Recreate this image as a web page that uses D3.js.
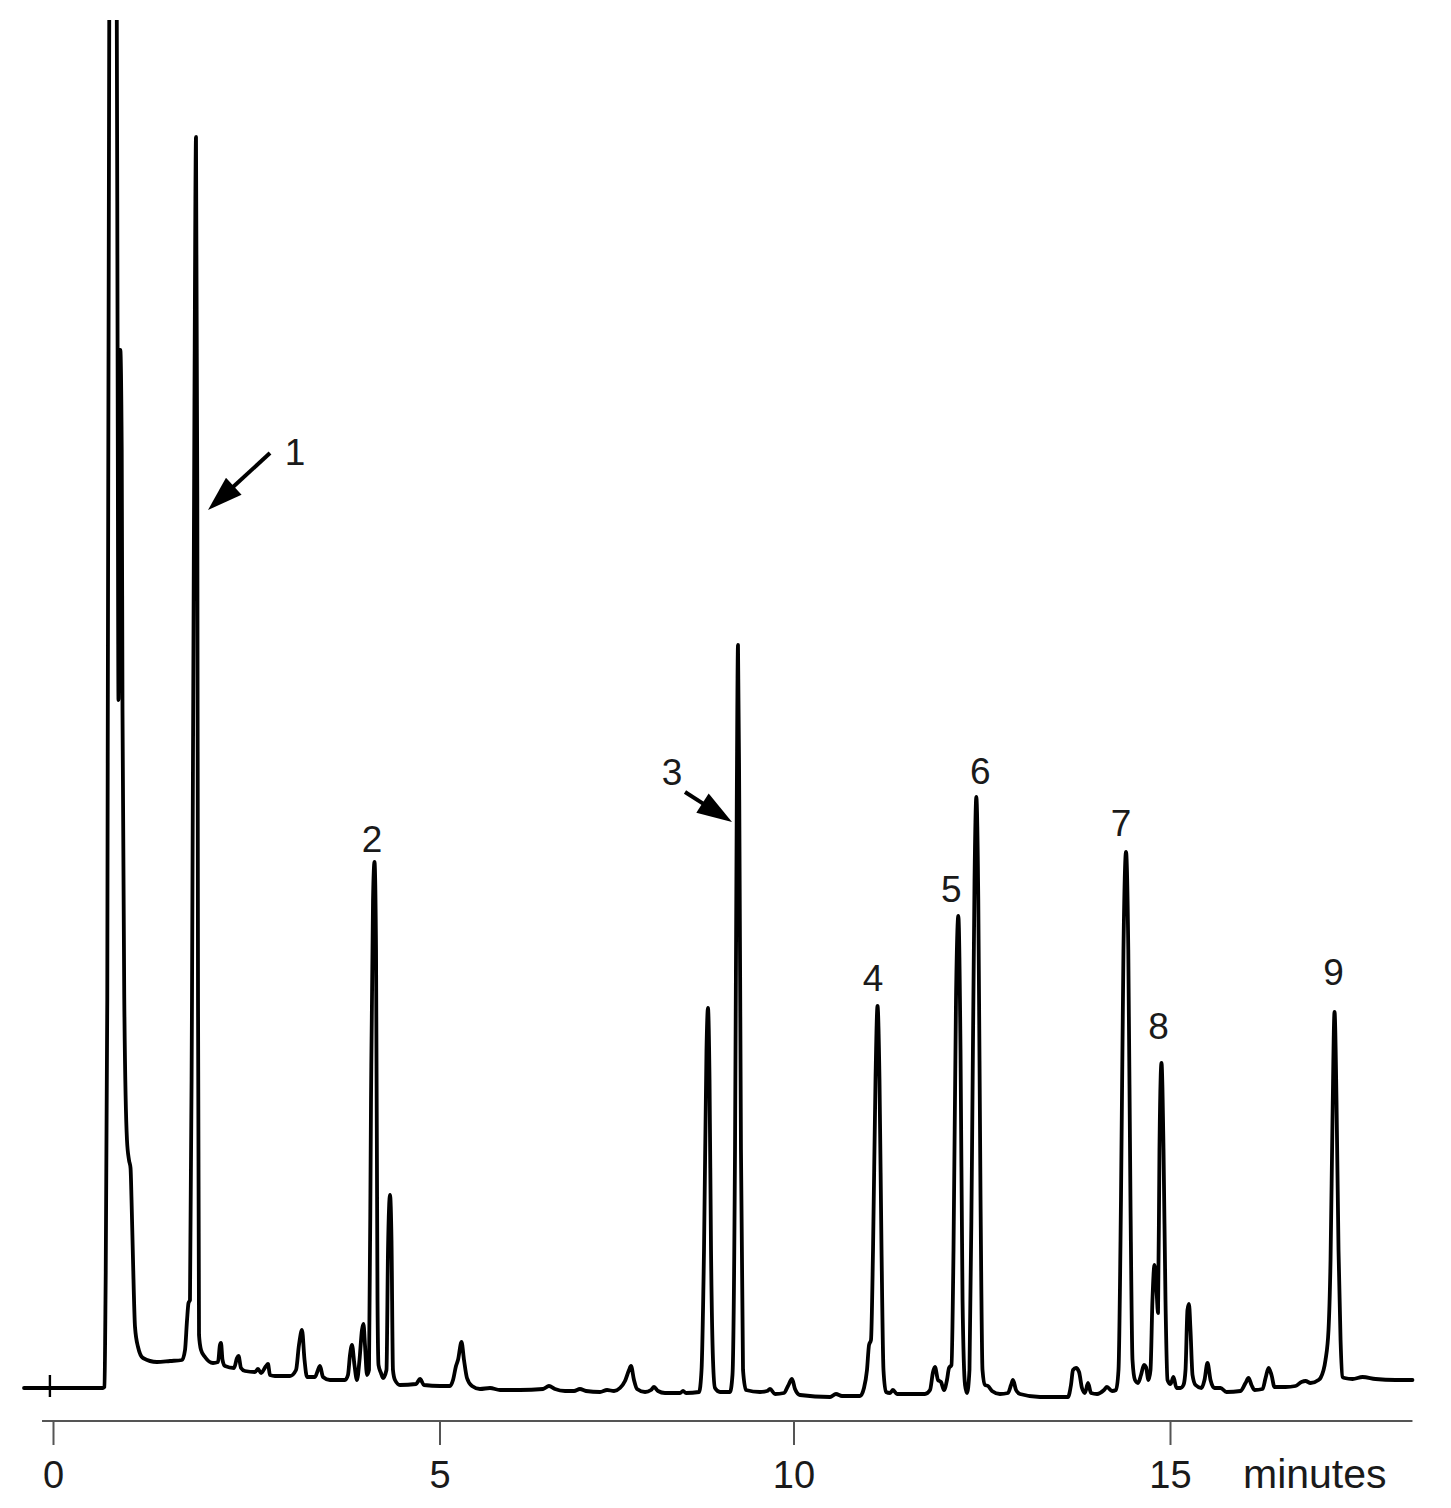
<!DOCTYPE html>
<html>
<head>
<meta charset="utf-8">
<script src="https://cdn.jsdelivr.net/npm/d3@7"></script>
<style>
  html, body { margin: 0; padding: 0; background: #fff; }
  svg { display: block; }
  text { font-family: "Liberation Sans", Arial, Helvetica, sans-serif; fill: #1a1a1a; }
</style>
</head>
<body>
<svg id="chart" width="1451" height="1508"></svg>
<script>
// ---------- DATA ----------
// retention time in minutes
const retentionTime = [
  -0.375, 0.647, 0.666, 0.679, 0.702, 0.731, 0.776, 0.821, 0.837, 0.847, 0.871, 0.889, 0.899, 0.922, 0.957,
  0.983, 1.003, 1.016, 1.035, 1.061, 1.100, 1.164, 1.345, 1.514, 1.669, 1.708, 1.734, 1.753, 1.772, 1.798,
  1.830, 1.850, 1.867, 1.876, 1.889, 1.915, 1.966, 2.070, 2.135, 2.160, 2.173, 2.193, 2.225, 2.342, 2.380,
  2.400, 2.432, 2.484, 2.613, 2.652, 2.691, 2.756, 2.781, 2.807, 2.872, 3.066, 3.144, 3.182, 3.221, 3.254,
  3.286, 3.389, 3.428, 3.454, 3.493, 3.583, 3.777, 3.816, 3.842, 3.868, 3.900, 3.932, 3.965, 3.997, 4.016,
  4.036, 4.062, 4.088, 4.114, 4.140, 4.159, 4.179, 4.198, 4.211, 4.243, 4.269, 4.314, 4.334, 4.360, 4.379,
  4.398, 4.424, 4.489, 4.696, 4.748, 4.799, 5.007, 5.148, 5.191, 5.233, 5.261, 5.311, 5.346, 5.388, 5.459,
  5.572, 5.713, 5.855, 6.137, 6.462, 6.546, 6.631, 6.773, 6.900, 6.984, 7.069, 7.267, 7.366, 7.465, 7.549,
  7.620, 7.677, 7.705, 7.747, 7.790, 7.903, 7.987, 8.030, 8.086, 8.185, 8.397, 8.440, 8.482, 8.666, 8.701,
  8.736, 8.771, 8.792, 8.814, 8.835, 8.863, 8.891, 8.962, 9.103, 9.138, 9.174, 9.199, 9.216, 9.234, 9.258,
  9.287, 9.329, 9.527, 9.626, 9.668, 9.739, 9.866, 9.922, 9.979, 10.020, 10.086, 10.485, 10.564, 10.644, 10.883,
  10.936, 10.976, 11.003, 11.029, 11.056, 11.089, 11.116, 11.142, 11.169, 11.195, 11.228, 11.282, 11.321, 11.374, 11.746,
  11.813, 11.853, 11.879, 11.919, 11.959, 11.999, 12.038, 12.065, 12.098, 12.125, 12.158, 12.189, 12.218, 12.245, 12.278,
  12.304, 12.337, 12.371, 12.404, 12.428, 12.454, 12.484, 12.510, 12.543, 12.583, 12.636, 12.742, 12.849, 12.889, 12.915,
  12.955, 13.008, 13.274, 13.645, 13.685, 13.712, 13.752, 13.792, 13.831, 13.871, 13.911, 13.951, 14.031, 14.124, 14.163,
  14.230, 14.283, 14.316, 14.349, 14.382, 14.416, 14.446, 14.475, 14.502, 14.535, 14.575, 14.615, 14.655, 14.681, 14.714,
  14.741, 14.767, 14.794, 14.821, 14.841, 14.860, 14.887, 14.914, 14.940, 14.967, 15.007, 15.046, 15.086, 15.139, 15.179,
  15.206, 15.232, 15.252, 15.272, 15.299, 15.339, 15.418, 15.458, 15.498, 15.538, 15.591, 15.671, 15.750, 15.936, 16.003,
  16.043, 16.082, 16.122, 16.229, 16.269, 16.309, 16.348, 16.388, 16.534, 16.667, 16.746, 16.800, 16.866, 16.972, 16.999,
  17.065, 17.105, 17.132, 17.158, 17.185, 17.211, 17.238, 17.265, 17.291, 17.318, 17.425, 17.557, 17.730, 17.995, 18.220
];
// detector signal (arbitrary units)
const signal = [
  1.2, 1.2, 1.3, 10, 40, 150, 170, 150, 100, 70, 105, 95, 69, 40, 26,
  24, 23.2, 20, 14, 7.3, 5.3, 4.2, 3.8, 3.9, 4.0, 5.0, 8, 9.7, 10, 40,
  100, 126.3, 90, 40, 6.5, 5, 4.3, 3.7, 3.8, 5.5, 5.7, 4, 3.4, 3.2, 4.2,
  4.4, 3.2, 2.9, 2.8, 3.1, 2.7, 3.4, 3.6, 2.5, 2.4, 2.4, 3.0, 5.5, 7.0, 4,
  2.3, 2.3, 3.0, 3.4, 2.3, 2.0, 2.0, 2.5, 4.5, 5.5, 3.5, 2.0, 4, 7, 7.6,
  5.5, 2.5, 3.0, 30, 50, 53.8, 45, 10, 3.5, 2.7, 2.2, 3.0, 15, 20.5, 16,
  3, 2.0, 1.5, 1.6, 2.1, 1.5, 1.4, 1.4, 2.0, 3.4, 4.0, 5.8, 4.0, 2.2, 1.4,
  1.1, 1.2, 1.0, 1.0, 1.1, 1.4, 1.1, 0.9, 0.9, 1.1, 0.9, 0.8, 1.0, 0.9, 1.2,
  1.9, 3.0, 3.4, 2.0, 1.1, 0.8, 1.0, 1.3, 0.9, 0.7, 0.7, 0.9, 0.7, 0.8, 3.0,
  15, 35, 39.2, 32, 15, 4, 1.2, 0.8, 0.8, 2.5, 25, 60, 75.5, 60, 25,
  3, 1.0, 0.8, 0.9, 1.1, 0.6, 0.7, 1.4, 2.1, 1.1, 0.5, 0.3, 0.6, 0.4, 0.4,
  1.2, 3.0, 5.5, 6.0, 15, 32, 39.4, 32, 15, 3, 0.8, 0.7, 1.0, 0.6, 0.6,
  1.0, 2.8, 3.3, 2.0, 1.8, 1.0, 2.0, 3.2, 3.5, 15, 40, 48.4, 35, 10, 1.5,
  0.7, 3.0, 25, 52, 60.3, 50, 20, 3, 1.5, 1.4, 0.9, 0.6, 0.7, 1.5, 2.0,
  1.0, 0.6, 0.3, 0.3, 1.5, 3.0, 3.2, 2.8, 1.2, 0.7, 1.7, 0.7, 0.6, 1.0, 1.3,
  0.9, 1.0, 3, 20, 45, 54.8, 45, 20, 4, 2.0, 1.7, 2.5, 3.5, 3.3, 2.0,
  3.0, 10, 13.5, 11, 8.7, 25, 33.7, 25, 10, 2.0, 1.6, 2.3, 1.2, 1.2, 1.5,
  3.0, 9.0, 9.6, 7.0, 2.5, 1.5, 1.2, 2.0, 3.7, 2.0, 1.2, 1.2, 0.8, 0.9, 1.7,
  2.2, 1.5, 1.0, 1.1, 2.2, 3.2, 2.5, 1.3, 1.3, 1.4, 1.8, 1.9, 1.7, 2.0, 2.2,
  4.0, 7.0, 14, 28, 38.8, 30, 15, 6, 2.3, 2.2, 2.1, 2.3, 2.1, 2.0, 2.0
];
// identified peaks
const peakLabels = ["1", "2", "3", "4", "5", "6", "7", "8", "9"];
const peakTimes  = [1.850, 4.159, 9.216, 11.116, 12.189, 12.428, 14.416, 14.887, 17.185];
// axis
const tickValues = [0, 5, 10, 15];
const tickLabels = ["0", "5", "10", "15"];
const axisTitle = "minutes";
const injectionTime = -0.04;

// ---------- LAYOUT ----------
const svg = d3.select("#chart");
const W = 1451, H = 1508;
svg.append("rect").attr("width", W).attr("height", H).attr("fill", "#fff");

// the scanned time axis is slightly uneven, so use a piecewise-linear scale through the ticks
const x = d3.scaleLinear().domain([0, 5, 10, 15]).range([53, 439.5, 793.5, 1170]);
const y = d3.scaleLinear().domain([0, 138]).range([1400, 20]);

const axisY = 1421;
const domainStart = -0.142, domainEnd = 18.22;

svg.append("defs").append("clipPath").attr("id", "plotclip")
  .append("rect").attr("x", 0).attr("y", y(138)).attr("width", W).attr("height", H);

const pts = retentionTime.map((t, i) => [t, signal[i]]);
const line = d3.line().x(d => x(d[0])).y(d => y(d[1])).curve(d3.curveMonotoneX);

svg.append("path")
  .attr("d", line(pts))
  .attr("clip-path", "url(#plotclip)")
  .attr("fill", "none")
  .attr("stroke", "#000")
  .attr("stroke-width", 3.8)
  .attr("stroke-linejoin", "round")
  .attr("stroke-linecap", "round");

// injection mark
svg.append("line")
  .attr("x1", x(injectionTime)).attr("x2", x(injectionTime))
  .attr("y1", y(signal[0]) - 13).attr("y2", y(signal[0]) + 9)
  .attr("stroke", "#000").attr("stroke-width", 2.4);

// ---------- AXIS ----------
svg.append("line")
  .attr("x1", x(domainStart)).attr("x2", x(domainEnd))
  .attr("y1", axisY).attr("y2", axisY)
  .attr("stroke", "#555").attr("stroke-width", 2);

const axis = d3.axisBottom(x)
  .tickValues(tickValues)
  .tickFormat((d, i) => tickLabels[i])
  .tickSize(24)
  .tickPadding(16);
const gAxis = svg.append("g").attr("transform", `translate(0,${axisY})`).call(axis);
gAxis.select(".domain").remove();
gAxis.selectAll(".tick line").attr("stroke", "#555").attr("stroke-width", 2);
gAxis.selectAll(".tick text")
  .attr("font-size", 38)
  .attr("font-family", '"Liberation Sans", Arial, Helvetica, sans-serif')
  .attr("fill", "#1a1a1a");

svg.append("text")
  .attr("x", x(15) + 73).attr("y", 1488)
  .attr("font-size", 41)
  .text(axisTitle);

// ---------- PEAK LABELS ----------
function apexSignal(t) {
  let best = 0;
  retentionTime.forEach((rt, i) => { if (Math.abs(rt - t) < 0.02) best = Math.max(best, signal[i]); });
  return best;
}
// offsets (px) of each label from its peak apex; arrow labels handled below
const labelOffsets = {
  "2": [-2.5, -10], "4": [-4.5, -15], "5": [-7, -14], "6": [4, -13],
  "7": [-5, -16], "8": [-3, -24], "9": [-1, -27]
};
// arrow labels: tip / tail / text positions relative to the peak x (px, absolute y)
const arrowLabels = {
  "1": { tip: [12, 510], tail: [74, 453], text: [99, 465] },
  "3": { tip: [-6, 822], tail: [-53, 792], text: [-66, 785] }
};

const gLab = svg.append("g");
peakLabels.forEach((lab, i) => {
  const px = x(peakTimes[i]);
  const py = y(apexSignal(peakTimes[i]));
  if (labelOffsets[lab]) {
    const [dx, dy] = labelOffsets[lab];
    gLab.append("text").attr("x", px + dx).attr("y", py + dy)
      .attr("text-anchor", "middle").attr("font-size", 37).text(lab);
  } else {
    const a = arrowLabels[lab];
    const tip = [px + a.tip[0], a.tip[1]];
    const tail = [px + a.tail[0], a.tail[1]];
    const vx = tip[0] - tail[0], vy = tip[1] - tail[1];
    const len = Math.hypot(vx, vy);
    const ux = vx / len, uy = vy / len;
    const headLen = 35, headHalf = 11.5;
    const base = [tip[0] - ux * headLen, tip[1] - uy * headLen];
    gLab.append("line")
      .attr("x1", tail[0]).attr("y1", tail[1])
      .attr("x2", base[0] + ux * 4).attr("y2", base[1] + uy * 4)
      .attr("stroke", "#000").attr("stroke-width", 4);
    gLab.append("polygon")
      .attr("points", [
        tip,
        [base[0] - uy * headHalf, base[1] + ux * headHalf],
        [base[0] + uy * headHalf, base[1] - ux * headHalf]
      ].map(p => p.join(",")).join(" "))
      .attr("fill", "#000");
    gLab.append("text").attr("x", px + a.text[0]).attr("y", a.text[1])
      .attr("text-anchor", "middle").attr("font-size", 37).text(lab);
  }
});
</script>
</body>
</html>
